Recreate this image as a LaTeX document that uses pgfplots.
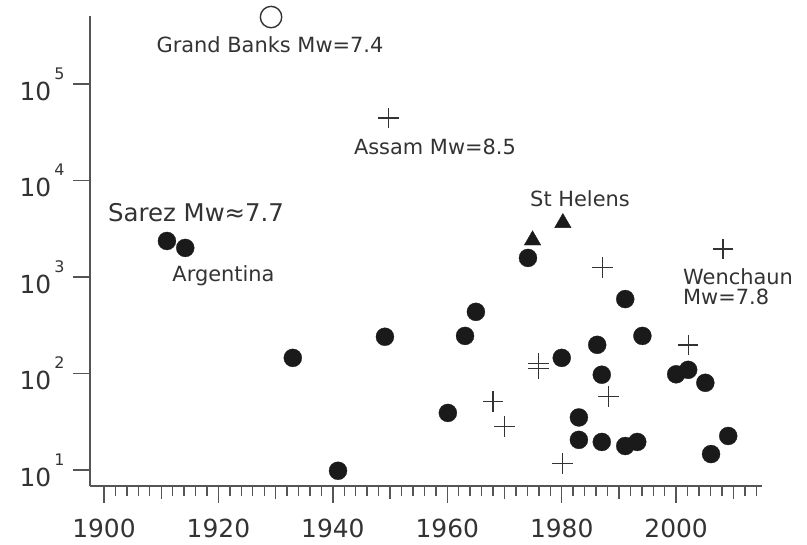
\documentclass[border=0pt]{standalone}
\usepackage{fontspec}
\setmainfont{DejaVu Sans}
\usepackage{pgfplots}
\pgfplotsset{compat=1.18}
\definecolor{txt}{HTML}{333333}
\definecolor{axc}{HTML}{555555}
\definecolor{dot}{HTML}{1A1A1A}
\newcommand{\tenpow}[1]{10\hspace{3bp}\raisebox{21bp}{\fontsize{16}{16}\selectfont #1}}
\begin{document}
\begin{tikzpicture}
\begin{axis}[
 scale only axis, width=672bp, height=470bp,
 xmin=1897.55, xmax=2015, ymode=log, ymin=6.82, ymax=507000,
 axis lines*=left, axis line style={axc, line width=1.5bp},
 tick align=outside, tick style={axc, line width=1.4bp},
 major tick length=17bp, minor tick length=10bp,
 xtick={1900,1920,1940,1960,1980,2000},
 xticklabels={1900,1920,1940,1960,1980,2000},
 minor xtick={1900,1902,...,2014},
 extra x ticks={1910,1930,1950,1970,1990,2010},
 extra x tick labels={},
 extra x tick style={major tick length=13bp},
 ytick={10,100,1000,10000,100000},
 yticklabels={\tenpow{1},\tenpow{2},\tenpow{3},\tenpow{4},\tenpow{5}},
 minor ytick={}, yminorticks=false,
 tick label style={font=\fontsize{25}{25}\selectfont, text=txt},
 xticklabel style={yshift=-13bp},
 yticklabel style={xshift=-5bp},
 clip=false,
]
% filled circles
\addplot[only marks, mark=*, mark size=9bp, mark options={fill=dot, draw=dot, line width=0.3bp}] coordinates {
(1911.0,2360) (1914.2,2000) (1933.0,145) (1940.9,9.8) (1949.1,240)
(1960.1,39) (1963.1,245) (1965.0,435) (1974.1,1575) (1980.0,145)
(1983.0,35) (1983.0,20.5) (1986.2,198) (1987.0,97) (1987.0,19.5)
(1991.1,590) (1991.1,17.7) (1993.2,19.5) (1994.1,245) (2000.0,98)
(2002.1,109) (2005.1,80) (2006.1,14.6) (2009.1,22.5)
};
% plus marks
\addplot[only marks, mark=+, mark size=10.3bp, mark options={draw=txt, line width=1.2bp}] coordinates {
(1949.7,44500) (1968.0,51) (1970.0,28) (1975.9,128) (1975.9,113)
(1980.1,11.7) (1988.2,57.5) (2002.1,197) (1987.1,1260) (2008.2,1950)
};
% triangles
\addplot[only marks, mark=triangle*, mark size=9.5bp, mark options={fill=dot, draw=dot}] coordinates {
(1974.9,2400) (1980.2,3630)
};
% open circle
\addplot[only marks, mark=o, mark size=10.7bp, mark options={draw=txt, line width=1.4bp}] coordinates {
(1929.2,494000)
};
\begin{scope}[every node/.style={font=\fontsize{21}{21}\selectfont, text=txt, inner sep=0pt}]
\node[anchor=base] at (rel axis cs:0.2679,0.9213) {Grand Banks Mw=7.4};
\node[anchor=base] at (rel axis cs:0.5134,0.7043) {Assam Mw=8.5};
\node[anchor=base west, font=\fontsize{24.5}{24.5}\selectfont] at (rel axis cs:0.0268,0.5617) {Sarez Mw≈7.7};
\node[anchor=base] at (rel axis cs:0.1987,0.4340) {Argentina};
\node[anchor=base] at (rel axis cs:0.7292,0.5936) {St Helens};
\node[anchor=base west] at (rel axis cs:0.8824,0.4277) {Wenchaun};
\node[anchor=base west] at (rel axis cs:0.8824,0.3851) {Mw=7.8};
\end{scope}
\path (rel axis cs:-0.1339,-0.1255) rectangle (rel axis cs:1.067,1.034);
\end{axis}
\end{tikzpicture}
\end{document}
